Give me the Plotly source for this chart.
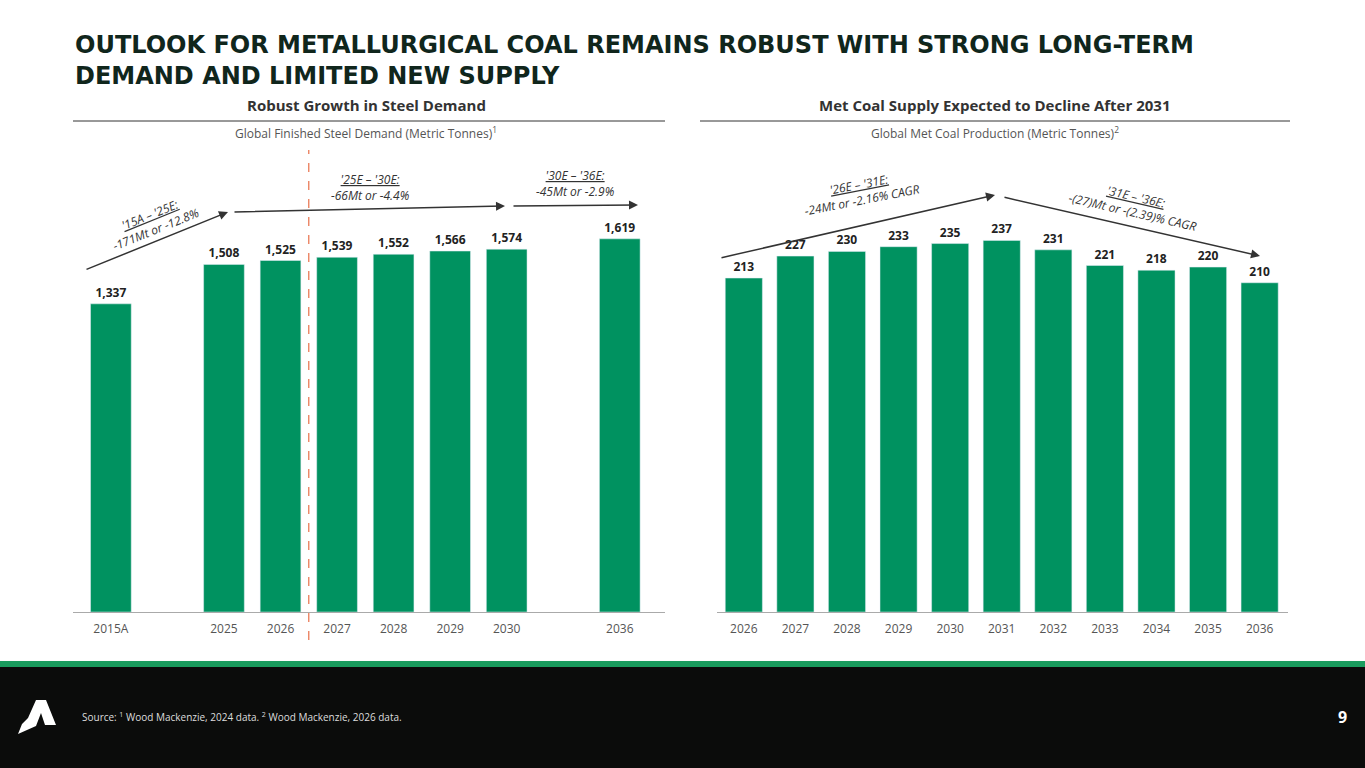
import plotly.graph_objects as go

W, H = 1365, 768
GREEN = "#009260"
DARK = "#10261c"

# left chart data
steel_x = [0, 2, 3, 4, 5, 6, 7, 9]
steel_lbl = ["2015A", "2025", "2026", "2027", "2028", "2029", "2030", "2036"]
steel = [1337, 1508, 1525, 1539, 1552, 1566, 1574, 1619]

# right chart data
coal_lbl = ["2026", "2027", "2028", "2029", "2030", "2031", "2032", "2033", "2034", "2035", "2036"]
coal = [213, 227, 230, 233, 235, 237, 231, 221, 218, 220, 210]


def px(x):
    return x / W


def py(y):
    return 1 - y / H


fig = go.Figure()
fig.add_trace(go.Bar(x=steel_x, y=steel, marker_color=GREEN, width=0.72,
                     text=[f"{v:,}" for v in steel], textposition="outside",
                     textfont=dict(size=12, color="#222", family="Open Sans", weight="bold"),
                     cliponaxis=False, xaxis="x", yaxis="y"))
fig.add_trace(go.Bar(x=list(range(11)), y=coal, marker_color=GREEN, width=0.72,
                     text=[str(v) for v in coal], textposition="outside",
                     textfont=dict(size=12, color="#222", family="Open Sans", weight="bold"),
                     cliponaxis=False, xaxis="x2", yaxis="y2"))

ydom = [py(612), py(160)]
fig.update_layout(
    width=W, height=H, margin=dict(l=0, r=0, t=0, b=0),
    paper_bgcolor="white", plot_bgcolor="rgba(0,0,0,0)", showlegend=False,
    font=dict(family="Open Sans", color="#444"),
    xaxis=dict(domain=[px(73), px(665)], range=[-0.67, 9.8], tickvals=steel_x, ticktext=steel_lbl,
               showgrid=False, zeroline=False, showline=True, linecolor="#aaa",
               tickfont=dict(size=12, color="#555"), ticks="", ticklabelstandoff=6),
    yaxis=dict(domain=ydom, range=[0, 1961], visible=False),
    xaxis2=dict(domain=[px(717), px(1288)], range=[-0.52, 10.55], tickvals=list(range(11)), ticktext=coal_lbl,
                showgrid=False, zeroline=False, showline=True, linecolor="#aaa",
                tickfont=dict(size=12, color="#555"), ticks="", ticklabelstandoff=6),
    yaxis2=dict(domain=ydom, range=[0, 288.3], visible=False, anchor="x2"),
)

shapes = [
    dict(type="line", xref="paper", yref="paper", x0=px(73), x1=px(665), y0=py(121), y1=py(121), line=dict(color="#333", width=1)),
    dict(type="line", xref="paper", yref="paper", x0=px(700), x1=px(1290), y0=py(121), y1=py(121), line=dict(color="#333", width=1)),
    dict(type="line", xref="x", yref="paper", x0=3.5, x1=3.5, y0=py(640), y1=py(150), line=dict(color="#e8704a", width=1.2, dash="dash")),
    dict(type="rect", xref="paper", yref="paper", x0=0, x1=1, y0=py(661), y1=py(667), fillcolor="#1a9c5e", line_width=0),
    dict(type="rect", xref="paper", yref="paper", x0=0, x1=1, y0=0, y1=py(667), fillcolor="#0b0c0b", line_width=0),
    dict(type="path", xref="paper", yref="paper", line_width=0, fillcolor="white",
         path=f"M {px(28)},{py(718)} L {px(36)},{py(700)} L {px(46)},{py(700)} L {px(56)},{py(725)} "
              f"L {px(45)},{py(725)} L {px(41)},{py(713)} L {px(36)},{py(726)} L {px(18)},{py(734)} L {px(22)},{py(724)} Z"),
]
fig.update_layout(shapes=shapes)

ann = [
    dict(x=px(73), y=py(60), text="<b>OUTLOOK FOR METALLURGICAL COAL REMAINS ROBUST WITH STRONG LONG-TERM<br>DEMAND AND LIMITED NEW SUPPLY</b>",
         xanchor="left", align="left", font=dict(size=24, color=DARK, family="DejaVu Sans")),
    dict(x=px(366), y=py(105), text="<b>Robust Growth in Steel Demand</b>", font=dict(size=15, color="#333")),
    dict(x=px(995), y=py(105), text="<b>Met Coal Supply Expected to Decline After 2031</b>", font=dict(size=15, color="#333")),
    dict(x=px(366), y=py(133), text="Global Finished Steel Demand (Metric Tonnes)<sup>1</sup>", font=dict(size=12, color="#555")),
    dict(x=px(995), y=py(133), text="Global Met Coal Production (Metric Tonnes)<sup>2</sup>", font=dict(size=12, color="#555")),
    dict(x=px(80), y=py(717), text="Source: <sup>1</sup> Wood Mackenzie, 2024 data. <sup>2</sup> Wood Mackenzie, 2026 data.",
         xanchor="left", font=dict(size=10, color="#ddd")),
    dict(x=px(1342), y=py(717), text="<b>9</b>", font=dict(size=16, color="white")),
    # trend labels
    dict(x=px(152), y=py(222), text="<i><u>'15A – '25E:</u><br>-171Mt or -12.8%</i>", textangle=-22, font=dict(size=12, color="#333")),
    dict(x=px(370), y=py(187), text="<i><u>'25E – '30E:</u><br>-66Mt or -4.4%</i>", font=dict(size=12, color="#333")),
    dict(x=px(575), y=py(183), text="<i><u>'30E – '36E:</u><br>-45Mt or -2.9%</i>", font=dict(size=12, color="#333")),
    dict(x=px(860), y=py(192), text="<i><u>'26E – '31E:</u><br>-24Mt or -2.16% CAGR</i>", textangle=-11, font=dict(size=12, color="#333")),
    dict(x=px(1134), y=py(205), text="<i><u>'31E – '36E:</u><br>-(27)Mt or -(2.39)% CAGR</i>", textangle=13, font=dict(size=12, color="#333")),
]
for a in ann:
    a.setdefault("xref", "paper")
    a.setdefault("yref", "paper")
    a.setdefault("xanchor", "center")
    a.setdefault("yanchor", "middle")
    a.setdefault("showarrow", False)

arrows = [((85, 270), (228, 212)), ((233, 212), (505, 206)), ((512, 206), (638, 205)),
          ((720, 258), (995, 195)), ((1003, 197), (1260, 256))]
for (x0, y0), (x1, y1) in arrows:
    ann.append(dict(xref="paper", yref="paper", x=px(x1), y=py(y1), ax=x0 - x1, ay=y0 - y1, text="",
                    showarrow=True, arrowhead=2, arrowsize=1.2, arrowwidth=1.5, arrowcolor="#333"))
fig.update_layout(annotations=ann)

fig.write_html("out.html", config={"displayModeBar": False},
               post_script="document.body.style.margin='0';document.body.style.overflow='hidden';")
